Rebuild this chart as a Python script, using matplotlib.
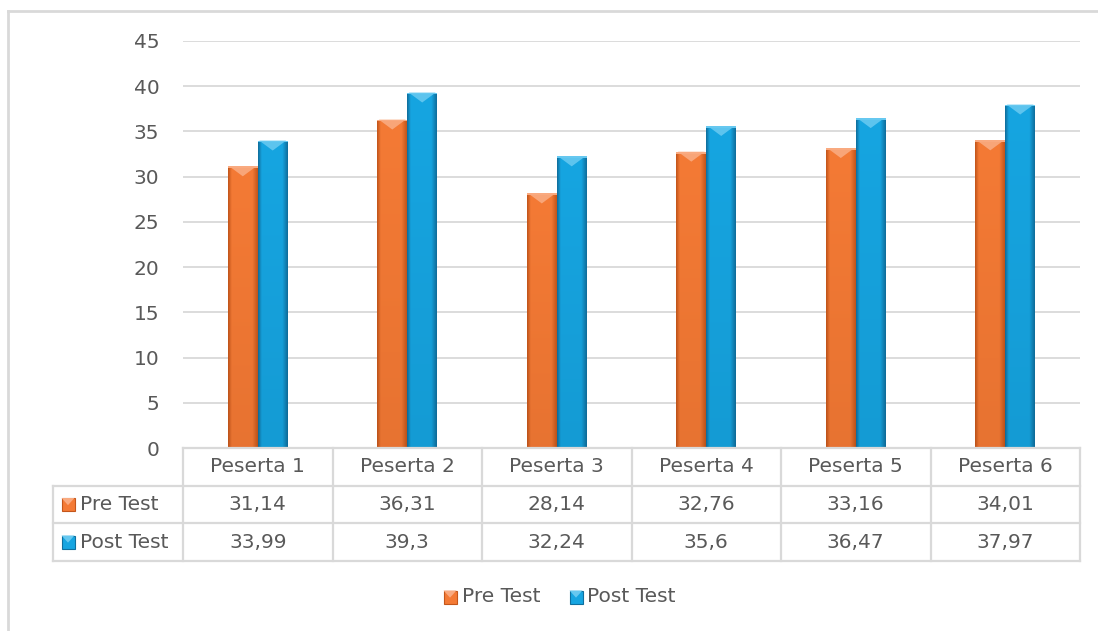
import numpy as np
import matplotlib.pyplot as plt
from matplotlib.patches import Polygon, Rectangle
from matplotlib.lines import Line2D

plt.rcParams['font.family'] = ['DejaVu Sans']

participants = ['Peserta 1', 'Peserta 2', 'Peserta 3', 'Peserta 4', 'Peserta 5', 'Peserta 6']
pre_test = [31.14, 36.31, 28.14, 32.76, 33.16, 34.01]
post_test = [33.99, 39.3, 32.24, 35.6, 36.47, 37.97]
series_names = ['Pre Test', 'Post Test']

W, H = 1098, 631
GRID = '#d9d9d9'
TXT = '#595959'
FS = 14.5
ORANGE = dict(base='#f47a35', dark='#c4561b', light='#f9aa80')
BLUE = dict(base='#16a5e1', dark='#0f6f9e', light='#66c8f0')


def fx(px):
    return px / W


def fy(py):
    return 1 - py / H


def hex_rgb(c):
    c = c.lstrip('#')
    return np.array([int(c[i:i + 2], 16) / 255 for i in (0, 2, 4)])


def shaded(style):
    # horizontal bevel shading: darker edges, lighter middle, slightly darker toward the base
    base, dark = hex_rgb(style['base']), hex_rgb(style['dark'])
    xs = np.linspace(0, 1, 40)
    prof = np.clip(np.minimum(xs / 0.12, (1 - xs) / 0.18), 0, 1)
    vert = np.linspace(0.9, 1.0, 60)[:, None]
    img = dark + (base - dark) * prof[None, :, None]
    return np.clip(img * vert[..., None] + (1 - vert[..., None]) * dark * 0.6, 0, 1)


fig = plt.figure(figsize=(W / 100, H / 100), dpi=100)
ax = fig.add_axes([fx(183), fy(448), fx(1080) - fx(183), fy(41) - fy(448)])

x = np.arange(len(participants))
bw = 0.2
bevel = 1.1
for vals, offs, style in [(pre_test, -bw, ORANGE), (post_test, 0.0, BLUE)]:
    bars = ax.bar(x + offs, vals, width=bw, align='edge', color=style['base'],
                  edgecolor='none', zorder=2)
    img = shaded(style)
    for b in bars:
        x0, x1, top = b.get_x(), b.get_x() + b.get_width(), b.get_height()
        im = ax.imshow(img, extent=[x0, x1, 0, top], origin='lower', aspect='auto',
                       zorder=3, interpolation='bilinear')
        im.set_clip_path(b)
        ax.add_patch(Polygon([[x0 + 0.01, top], [x1 - 0.01, top],
                              [(x0 + x1) / 2, top - bevel]],
                             closed=True, facecolor=style['light'], edgecolor='none',
                             alpha=0.9, zorder=4))
        ax.add_patch(Rectangle((x0, top - 0.2), x1 - x0, 0.2, facecolor=style['light'],
                               edgecolor='none', zorder=4))

ax.set_xlim(-0.5, len(participants) - 0.5)
ax.set_ylim(0, 45)
ax.set_yticks(np.arange(0, 46, 5))
ax.yaxis.grid(True, color=GRID, lw=1.3, zorder=0)
ax.set_axisbelow(True)
ax.set_xticks([])
for s in ax.spines.values():
    s.set_visible(False)
ax.tick_params(axis='y', length=0, pad=17, labelsize=FS, labelcolor=TXT)

# data table beneath the plot
col_edges = [183 + i * (1080 - 183) / 6 for i in range(7)]
rows = [448, 486, 523, 561]
lw = 1.6
for r in rows:
    x_left = 183 if r == 448 else 53
    fig.add_artist(Line2D([fx(x_left), fx(1080)], [fy(r), fy(r)], color=GRID, lw=lw))
fig.add_artist(Line2D([fx(53), fx(53)], [fy(486), fy(561)], color=GRID, lw=lw))
for c in col_edges:
    fig.add_artist(Line2D([fx(c), fx(c)], [fy(448), fy(561)], color=GRID, lw=lw))

for i, name in enumerate(participants):
    cx = (col_edges[i] + col_edges[i + 1]) / 2
    fig.text(fx(cx), fy((rows[0] + rows[1]) / 2), name, ha='center', va='center',
             fontsize=FS, color=TXT)
    for k, vals in enumerate([pre_test, post_test]):
        label = f'{vals[i]:g}'.replace('.', ',')
        fig.text(fx(cx), fy((rows[k + 1] + rows[k + 2]) / 2), label, ha='center',
                 va='center', fontsize=FS, color=TXT)


def legend_key(px, py, style, size=13):
    # small bevelled square used as series key
    x0, y0 = fx(px - size / 2), fy(py + size / 2)
    wd, ht = fx(size), size / H
    fig.add_artist(Rectangle((x0, y0), wd, ht, facecolor=style['base'],
                             edgecolor=style['dark'], lw=0.8))
    fig.add_artist(Polygon([[x0, y0 + ht], [x0 + wd, y0 + ht], [x0 + wd / 2, y0 + ht * 0.45]],
                           facecolor=style['light'], edgecolor='none'))


for k, (name, style) in enumerate(zip(series_names, [ORANGE, BLUE])):
    yc = (rows[k + 1] + rows[k + 2]) / 2
    legend_key(68, yc, style)
    fig.text(fx(80), fy(yc), name, ha='left', va='center', fontsize=FS, color=TXT)

legend_key(450, 597, ORANGE)
fig.text(fx(462), fy(597), series_names[0], ha='left', va='center', fontsize=FS, color=TXT)
legend_key(576, 597, BLUE)
fig.text(fx(587), fy(597), series_names[1], ha='left', va='center', fontsize=FS, color=TXT)

# chart frame
fig.add_artist(Line2D([fx(8), fx(8)], [fy(11), 0], color=GRID, lw=2))
fig.add_artist(Line2D([fx(8), 1], [fy(11), fy(11)], color=GRID, lw=2))

fig.savefig('out.png', dpi=100, facecolor='white')
